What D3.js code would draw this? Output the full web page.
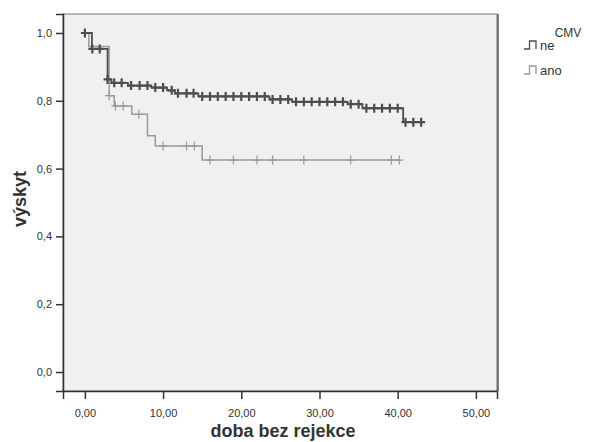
<!DOCTYPE html>
<html>
<head>
<meta charset="utf-8">
<script src="https://cdn.jsdelivr.net/npm/d3@7"></script>
<style>
  body { margin: 0; background: #fff; }
  text { font-family: "Liberation Sans", Arial, sans-serif; fill: #333; }
</style>
</head>
<body>
<div id="km"></div>
<script>
// Kaplan-Meier steps for each CMV group (time, survival)
const neStepTime = [0, 0.9, 2.9, 3.4, 5.5, 8.5, 10.5, 11.5, 14.5, 23.6, 26.5, 33.6, 35.5, 40.7];
const neStepSurv = [1.0, 0.953, 0.863, 0.853, 0.845, 0.839, 0.831, 0.822, 0.813, 0.804, 0.797, 0.790, 0.778, 0.737];
const neEnd = 43;
const neCensored = [0, 0.95, 1.9, 2.9, 3.75, 4.7, 5.9, 7, 8, 9, 10, 11.1, 11.9, 13, 13.9,
  15, 16, 17, 18, 19, 20, 21, 22, 23, 24, 25, 26, 27, 28, 29, 30, 31, 32, 33, 34, 35,
  36, 37, 38, 39, 40, 41, 42, 43];

const anoStepTime = [0, 0.5, 3.1, 3.75, 6.0, 8.0, 9.0, 15.0];
const anoStepSurv = [1.0, 0.96, 0.815, 0.785, 0.76, 0.697, 0.667, 0.625];
const anoEnd = 40.2;
const anoCensored = [3.1, 3.9, 4.9, 6.9, 10, 13, 14, 16, 19, 22, 24, 28, 34, 39.2, 40.2];

const xTicks = [0, 10, 20, 30, 40, 50];
const yTicks = [0, 0.2, 0.4, 0.6, 0.8, 1.0];
const groups = ['ne', 'ano'];

const width = 594;
const height = 442;
const plot = { left: 63, right: 497, top: 14, bottom: 391 };

const svg = d3.select('#km')
  .append('svg')
  .attr('width', width)
  .attr('height', height);

const x = d3.scaleLinear().domain([-2.8, 52.7]).range([plot.left, plot.right]);
const y = d3.scaleLinear().domain([-0.056, 1.056]).range([plot.bottom, plot.top]);

// plot background and frame
svg.append('rect')
  .attr('x', plot.left).attr('y', plot.top)
  .attr('width', plot.right - plot.left).attr('height', plot.bottom - plot.top)
  .attr('fill', '#f0f0f0')
  .attr('stroke', '#777')
  .attr('stroke-width', 1);
svg.append('line')
  .attr('x1', plot.right + 1).attr('x2', plot.right + 1)
  .attr('y1', plot.top).attr('y2', plot.bottom)
  .attr('stroke', '#555').attr('stroke-width', 1.5);

// axes
const xAxis = d3.axisBottom(x)
  .tickValues(xTicks)
  .tickSize(8)
  .tickFormat(d => d3.format('.2f')(d).replace('.', ','));
const gx = svg.append('g')
  .attr('transform', `translate(0,${plot.bottom})`)
  .call(xAxis);
gx.select('.domain').attr('stroke', '#333').attr('stroke-width', 1.5);
gx.selectAll('.tick line').attr('stroke', '#333').attr('stroke-width', 1.5);
gx.selectAll('.tick text')
  .attr('y', 18)
  .style('font-size', '11px')
  .style('font-family', '"Liberation Sans", Arial, sans-serif')
  .attr('fill', '#333');

const yAxis = d3.axisLeft(y)
  .tickValues(yTicks)
  .tickSize(7)
  .tickFormat(d => d3.format('.1f')(d).replace('.', ','));
const gy = svg.append('g')
  .attr('transform', `translate(${plot.left},0)`)
  .call(yAxis);
gy.select('.domain').attr('stroke', '#333').attr('stroke-width', 1.5);
gy.selectAll('.tick line').attr('stroke', '#333').attr('stroke-width', 1.5);
gy.selectAll('.tick text')
  .attr('x', -11)
  .style('font-size', '11px')
  .style('font-family', '"Liberation Sans", Arial, sans-serif')
  .attr('fill', '#333');

// axis titles
svg.append('text')
  .attr('x', 283)
  .attr('y', 437)
  .attr('text-anchor', 'middle')
  .style('font-size', '18px')
  .style('font-weight', 'bold')
  .text('doba bez rejekce');

svg.append('text')
  .attr('transform', 'translate(26,199) rotate(-90)')
  .attr('text-anchor', 'middle')
  .style('font-size', '18px')
  .style('font-weight', 'bold')
  .text('výskyt');

// survival curves
const series = [
  { name: 'ano', times: anoStepTime, surv: anoStepSurv, end: anoEnd, cens: anoCensored,
    color: '#9a9a9a', width: 1.5, markWidth: 1.2 },
  { name: 'ne', times: neStepTime, surv: neStepSurv, end: neEnd, cens: neCensored,
    color: '#4d4d4d', width: 1.8, markWidth: 2.2 }
];

const stepLine = d3.line()
  .x(d => x(d[0]))
  .y(d => y(d[1]))
  .curve(d3.curveStepAfter);

function survivalAt(s, t) {
  let v = s.surv[0];
  s.times.forEach((tt, i) => { if (tt <= t) v = s.surv[i]; });
  return v;
}

series.forEach(s => {
  const pts = s.times.map((t, i) => [t, s.surv[i]]);
  pts.push([s.end, s.surv[s.surv.length - 1]]);

  svg.append('path')
    .datum(pts)
    .attr('fill', 'none')
    .attr('stroke', s.color)
    .attr('stroke-width', s.width)
    .attr('d', stepLine);

  const marks = svg.append('g');
  s.cens.forEach(t => {
    const cx = x(t);
    const cy = y(survivalAt(s, t));
    marks.append('path')
      .attr('d', `M${cx - 4},${cy}H${cx + 4}M${cx},${cy - 4.5}V${cy + 4.5}`)
      .attr('stroke', s.color)
      .attr('stroke-width', s.markWidth)
      .attr('fill', 'none');
  });
});

// legend
const legend = svg.append('g');
legend.append('text')
  .attr('x', 568)
  .attr('y', 37)
  .attr('text-anchor', 'middle')
  .style('font-size', '12px')
  .text('CMV');

const legendColor = { ne: '#4d4d4d', ano: '#9a9a9a' };
groups.forEach((g, i) => {
  const cy = 45 + i * 25;
  legend.append('path')
    .attr('d', `M524,${cy + 4}H529.5V${cy - 4}H536V${cy + 4}`)
    .attr('fill', 'none')
    .attr('stroke', legendColor[g])
    .attr('stroke-width', 1.3);
  legend.append('text')
    .attr('x', 540)
    .attr('y', cy + 4.5)
    .style('font-size', '13px')
    .text(g);
});
</script>
</body>
</html>
